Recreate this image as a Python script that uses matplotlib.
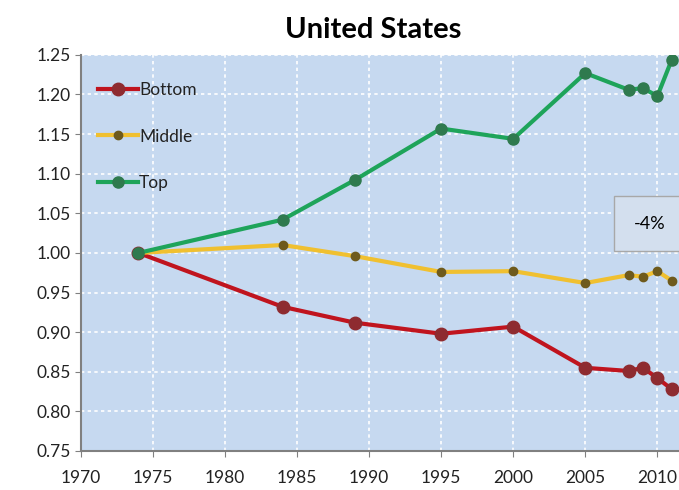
import matplotlib.pyplot as plt

plt.rcParams['font.family'] = ['Lato', 'DejaVu Sans']

years = [1974, 1984, 1989, 1995, 2000, 2005, 2008, 2009, 2010, 2011]
bottom = [1.000, 0.932, 0.912, 0.898, 0.907, 0.855, 0.851, 0.855, 0.842, 0.828]
middle = [1.000, 1.010, 0.996, 0.976, 0.977, 0.962, 0.972, 0.970, 0.977, 0.965]
top = [1.000, 1.042, 1.092, 1.157, 1.144, 1.227, 1.206, 1.208, 1.198, 1.244]

fig = plt.figure(figsize=(6.79, 4.90), dpi=100)
ax = fig.add_axes([0.119, 0.0796, 0.881, 0.8084])
ax.set_facecolor('#c6d9f0')

ax.plot(years, bottom, color='#c0141e', lw=3, marker='o', ms=9,
        mfc='#8e2b30', mec='#8e2b30', label='Bottom', zorder=3)
ax.plot(years, middle, color='#f0c030', lw=3, marker='o', ms=6,
        mfc='#6e5a1c', mec='#6e5a1c', label='Middle', zorder=3)
ax.plot(years, top, color='#1ea45a', lw=3, marker='o', ms=8,
        mfc='#2f7a4e', mec='#2f7a4e', label='Top', zorder=3)

ax.set_xlim(1970, 2011.5)
ax.set_ylim(0.75, 1.25)
ax.set_xticks(range(1970, 2011, 5))
ax.set_yticks([0.75 + 0.05 * i for i in range(11)])
ax.set_yticklabels([f'{0.75 + 0.05 * i:.2f}' for i in range(11)])
ax.tick_params(labelsize=12.5, length=4, color='#808080', labelcolor='#222222')
ax.tick_params(axis='x', pad=10)
ax.grid(True, color='white', ls=(0, (2, 2)), lw=1.2)
ax.set_axisbelow(True)
for s in ['top', 'right']:
    ax.spines[s].set_visible(False)
for s in ['left', 'bottom']:
    ax.spines[s].set_color('#808080')
    ax.spines[s].set_linewidth(1.5)

ax.legend(loc='upper left', frameon=False, fontsize=12.5, labelspacing=1.75,
          handlelength=2.3, handletextpad=0.05, borderaxespad=0.6,
          bbox_to_anchor=(0.0, 0.975), labelcolor='#222222')

ax.text(2009.5, 1.037, '-4%', fontsize=13, ha='center', va='center',
        clip_on=False,
        bbox=dict(boxstyle='square,pad=1.1', fc='#d3dfee', ec='#a8a8a8'))

fig.suptitle('United States', fontsize=21, fontweight='bold', y=0.965, x=0.549)

fig.savefig('out.png', dpi=100)
